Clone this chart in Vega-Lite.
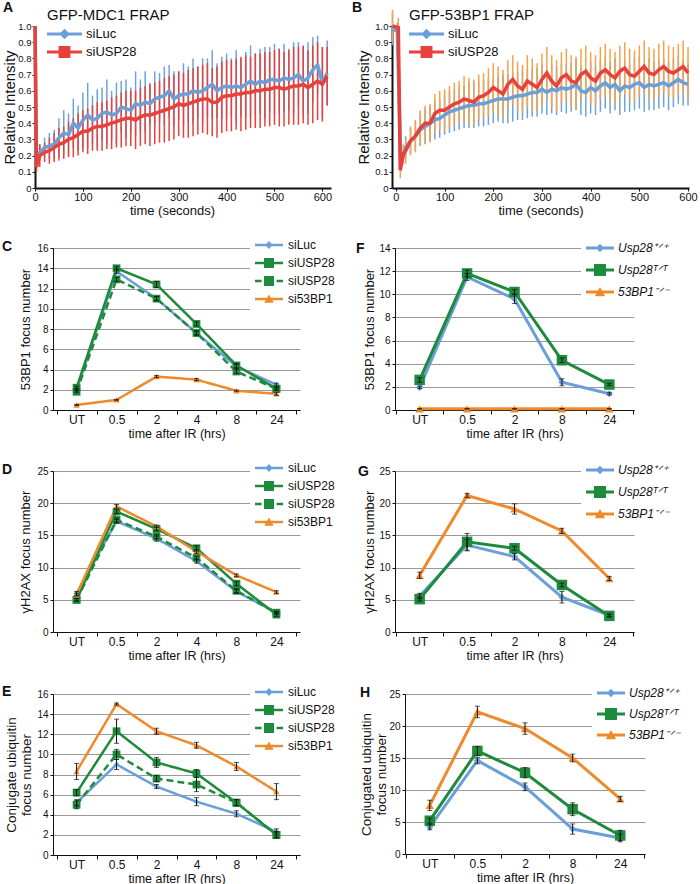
{
"$schema": "https://vega.github.io/schema/vega-lite/v6.json",
"padding": {"left": 2, "top": 1, "right": 2, "bottom": 0},
"columns": 1,
"spacing": 19,
"resolve": {"scale": {"color": "independent"}, "legend": {"color": "independent"}},
"config": {
  "font": "Liberation Sans",
  "view": {"stroke": null},
  "axis": {"labelColor": "#111", "titleColor": "#111", "domainColor": "#111", "tickColor": "#111", "titleFontWeight": "normal", "grid": false, "labelFontSize": 10, "titleFontSize": 13},
  "title": {"fontSize": 14, "fontWeight": "bold", "color": "#111"},
  "legend": {"labelColor": "#111", "titleColor": "#111"}
},
"datasets": {
"A": [
{"s":"siLuc","t":0,"v":1.0,"e":0},{"s":"siLuc","t":3,"v":0.2,"e":0.03},{"s":"siLuc","t":10,"v":0.22,"e":0.05},{"s":"siLuc","t":20,"v":0.25,"e":0.06},{"s":"siLuc","t":30,"v":0.26,"e":0.08},{"s":"siLuc","t":40,"v":0.27,"e":0.09},{"s":"siLuc","t":50,"v":0.31,"e":0.12},{"s":"siLuc","t":60,"v":0.34,"e":0.14},{"s":"siLuc","t":70,"v":0.33,"e":0.13},{"s":"siLuc","t":80,"v":0.40,"e":0.15},{"s":"siLuc","t":90,"v":0.37,"e":0.14},{"s":"siLuc","t":100,"v":0.42,"e":0.17},{"s":"siLuc","t":110,"v":0.45,"e":0.2},{"s":"siLuc","t":120,"v":0.42,"e":0.15},{"s":"siLuc","t":130,"v":0.43,"e":0.18},{"s":"siLuc","t":140,"v":0.46,"e":0.16},{"s":"siLuc","t":150,"v":0.47,"e":0.2},{"s":"siLuc","t":160,"v":0.45,"e":0.15},{"s":"siLuc","t":170,"v":0.46,"e":0.19},{"s":"siLuc","t":180,"v":0.50,"e":0.16},{"s":"siLuc","t":190,"v":0.49,"e":0.18},{"s":"siLuc","t":200,"v":0.48,"e":0.14},{"s":"siLuc","t":210,"v":0.52,"e":0.2},{"s":"siLuc","t":220,"v":0.51,"e":0.16},{"s":"siLuc","t":230,"v":0.53,"e":0.19},{"s":"siLuc","t":240,"v":0.52,"e":0.13},{"s":"siLuc","t":250,"v":0.55,"e":0.17},{"s":"siLuc","t":260,"v":0.56,"e":0.15},{"s":"siLuc","t":270,"v":0.57,"e":0.18},{"s":"siLuc","t":280,"v":0.60,"e":0.16},{"s":"siLuc","t":290,"v":0.55,"e":0.17},{"s":"siLuc","t":300,"v":0.57,"e":0.15},{"s":"siLuc","t":310,"v":0.58,"e":0.19},{"s":"siLuc","t":320,"v":0.58,"e":0.17},{"s":"siLuc","t":330,"v":0.60,"e":0.2},{"s":"siLuc","t":340,"v":0.59,"e":0.16},{"s":"siLuc","t":350,"v":0.60,"e":0.2},{"s":"siLuc","t":360,"v":0.62,"e":0.18},{"s":"siLuc","t":370,"v":0.64,"e":0.21},{"s":"siLuc","t":380,"v":0.60,"e":0.17},{"s":"siLuc","t":390,"v":0.62,"e":0.19},{"s":"siLuc","t":400,"v":0.63,"e":0.2},{"s":"siLuc","t":410,"v":0.62,"e":0.18},{"s":"siLuc","t":420,"v":0.63,"e":0.22},{"s":"siLuc","t":430,"v":0.62,"e":0.18},{"s":"siLuc","t":440,"v":0.64,"e":0.2},{"s":"siLuc","t":450,"v":0.66,"e":0.22},{"s":"siLuc","t":460,"v":0.64,"e":0.19},{"s":"siLuc","t":470,"v":0.66,"e":0.2},{"s":"siLuc","t":480,"v":0.65,"e":0.22},{"s":"siLuc","t":490,"v":0.67,"e":0.2},{"s":"siLuc","t":500,"v":0.67,"e":0.22},{"s":"siLuc","t":510,"v":0.66,"e":0.2},{"s":"siLuc","t":520,"v":0.68,"e":0.21},{"s":"siLuc","t":530,"v":0.67,"e":0.19},{"s":"siLuc","t":540,"v":0.68,"e":0.22},{"s":"siLuc","t":550,"v":0.70,"e":0.2},{"s":"siLuc","t":560,"v":0.66,"e":0.21},{"s":"siLuc","t":570,"v":0.68,"e":0.22},{"s":"siLuc","t":580,"v":0.73,"e":0.2},{"s":"siLuc","t":590,"v":0.76,"e":0.18},{"s":"siLuc","t":600,"v":0.65,"e":0.22},{"s":"siLuc","t":610,"v":0.71,"e":0.2},
{"s":"siUSP28","t":0,"v":1.0,"e":0},{"s":"siUSP28","t":3,"v":0.13,"e":0.03},{"s":"siUSP28","t":10,"v":0.20,"e":0.07},{"s":"siUSP28","t":20,"v":0.22,"e":0.06},{"s":"siUSP28","t":30,"v":0.23,"e":0.08},{"s":"siUSP28","t":40,"v":0.25,"e":0.09},{"s":"siUSP28","t":50,"v":0.27,"e":0.1},{"s":"siUSP28","t":60,"v":0.28,"e":0.1},{"s":"siUSP28","t":70,"v":0.30,"e":0.11},{"s":"siUSP28","t":80,"v":0.31,"e":0.12},{"s":"siUSP28","t":90,"v":0.33,"e":0.13},{"s":"siUSP28","t":100,"v":0.35,"e":0.13},{"s":"siUSP28","t":110,"v":0.35,"e":0.14},{"s":"siUSP28","t":120,"v":0.37,"e":0.14},{"s":"siUSP28","t":130,"v":0.38,"e":0.15},{"s":"siUSP28","t":140,"v":0.38,"e":0.15},{"s":"siUSP28","t":150,"v":0.39,"e":0.15},{"s":"siUSP28","t":160,"v":0.40,"e":0.16},{"s":"siUSP28","t":170,"v":0.41,"e":0.16},{"s":"siUSP28","t":180,"v":0.42,"e":0.17},{"s":"siUSP28","t":190,"v":0.43,"e":0.17},{"s":"siUSP28","t":200,"v":0.43,"e":0.17},{"s":"siUSP28","t":210,"v":0.42,"e":0.18},{"s":"siUSP28","t":220,"v":0.44,"e":0.18},{"s":"siUSP28","t":230,"v":0.45,"e":0.18},{"s":"siUSP28","t":240,"v":0.45,"e":0.19},{"s":"siUSP28","t":250,"v":0.46,"e":0.19},{"s":"siUSP28","t":260,"v":0.47,"e":0.19},{"s":"siUSP28","t":270,"v":0.48,"e":0.2},{"s":"siUSP28","t":280,"v":0.49,"e":0.2},{"s":"siUSP28","t":290,"v":0.50,"e":0.2},{"s":"siUSP28","t":300,"v":0.52,"e":0.2},{"s":"siUSP28","t":310,"v":0.51,"e":0.2},{"s":"siUSP28","t":320,"v":0.52,"e":0.21},{"s":"siUSP28","t":330,"v":0.53,"e":0.21},{"s":"siUSP28","t":340,"v":0.54,"e":0.21},{"s":"siUSP28","t":350,"v":0.55,"e":0.21},{"s":"siUSP28","t":360,"v":0.55,"e":0.22},{"s":"siUSP28","t":370,"v":0.53,"e":0.21},{"s":"siUSP28","t":380,"v":0.53,"e":0.22},{"s":"siUSP28","t":390,"v":0.56,"e":0.22},{"s":"siUSP28","t":400,"v":0.57,"e":0.22},{"s":"siUSP28","t":410,"v":0.57,"e":0.22},{"s":"siUSP28","t":420,"v":0.58,"e":0.22},{"s":"siUSP28","t":430,"v":0.58,"e":0.23},{"s":"siUSP28","t":440,"v":0.59,"e":0.23},{"s":"siUSP28","t":450,"v":0.59,"e":0.22},{"s":"siUSP28","t":460,"v":0.60,"e":0.23},{"s":"siUSP28","t":470,"v":0.60,"e":0.23},{"s":"siUSP28","t":480,"v":0.61,"e":0.23},{"s":"siUSP28","t":490,"v":0.61,"e":0.23},{"s":"siUSP28","t":500,"v":0.62,"e":0.23},{"s":"siUSP28","t":510,"v":0.62,"e":0.24},{"s":"siUSP28","t":520,"v":0.61,"e":0.23},{"s":"siUSP28","t":530,"v":0.62,"e":0.23},{"s":"siUSP28","t":540,"v":0.63,"e":0.24},{"s":"siUSP28","t":550,"v":0.63,"e":0.24},{"s":"siUSP28","t":560,"v":0.64,"e":0.24},{"s":"siUSP28","t":570,"v":0.62,"e":0.23},{"s":"siUSP28","t":580,"v":0.64,"e":0.24},{"s":"siUSP28","t":590,"v":0.66,"e":0.24},{"s":"siUSP28","t":600,"v":0.64,"e":0.23},{"s":"siUSP28","t":610,"v":0.69,"e":0.18}
],
"B": [
{"s":"siLuc","t":-7,"v":0.98,"e":0.1},{"s":"siLuc","t":3,"v":0.97,"e":0.05},{"s":"siLuc","t":10,"v":0.14,"e":0.04},{"s":"siLuc","t":20,"v":0.25,"e":0.07},{"s":"siLuc","t":30,"v":0.29,"e":0.08},{"s":"siLuc","t":40,"v":0.32,"e":0.09},{"s":"siLuc","t":50,"v":0.36,"e":0.1},{"s":"siLuc","t":60,"v":0.38,"e":0.11},{"s":"siLuc","t":70,"v":0.40,"e":0.11},{"s":"siLuc","t":80,"v":0.42,"e":0.12},{"s":"siLuc","t":90,"v":0.43,"e":0.12},{"s":"siLuc","t":100,"v":0.45,"e":0.12},{"s":"siLuc","t":110,"v":0.47,"e":0.13},{"s":"siLuc","t":120,"v":0.48,"e":0.13},{"s":"siLuc","t":130,"v":0.49,"e":0.13},{"s":"siLuc","t":140,"v":0.50,"e":0.13},{"s":"siLuc","t":150,"v":0.51,"e":0.14},{"s":"siLuc","t":160,"v":0.51,"e":0.14},{"s":"siLuc","t":170,"v":0.52,"e":0.14},{"s":"siLuc","t":180,"v":0.52,"e":0.14},{"s":"siLuc","t":190,"v":0.53,"e":0.14},{"s":"siLuc","t":200,"v":0.54,"e":0.14},{"s":"siLuc","t":210,"v":0.55,"e":0.14},{"s":"siLuc","t":220,"v":0.55,"e":0.15},{"s":"siLuc","t":230,"v":0.55,"e":0.15},{"s":"siLuc","t":240,"v":0.56,"e":0.15},{"s":"siLuc","t":250,"v":0.57,"e":0.15},{"s":"siLuc","t":260,"v":0.57,"e":0.15},{"s":"siLuc","t":270,"v":0.58,"e":0.15},{"s":"siLuc","t":280,"v":0.59,"e":0.15},{"s":"siLuc","t":290,"v":0.59,"e":0.15},{"s":"siLuc","t":300,"v":0.61,"e":0.15},{"s":"siLuc","t":310,"v":0.59,"e":0.14},{"s":"siLuc","t":320,"v":0.61,"e":0.15},{"s":"siLuc","t":330,"v":0.60,"e":0.15},{"s":"siLuc","t":340,"v":0.62,"e":0.15},{"s":"siLuc","t":350,"v":0.61,"e":0.15},{"s":"siLuc","t":360,"v":0.62,"e":0.15},{"s":"siLuc","t":370,"v":0.64,"e":0.16},{"s":"siLuc","t":380,"v":0.60,"e":0.15},{"s":"siLuc","t":390,"v":0.59,"e":0.15},{"s":"siLuc","t":400,"v":0.62,"e":0.16},{"s":"siLuc","t":410,"v":0.60,"e":0.15},{"s":"siLuc","t":420,"v":0.63,"e":0.16},{"s":"siLuc","t":430,"v":0.65,"e":0.16},{"s":"siLuc","t":440,"v":0.62,"e":0.16},{"s":"siLuc","t":450,"v":0.64,"e":0.16},{"s":"siLuc","t":460,"v":0.60,"e":0.15},{"s":"siLuc","t":470,"v":0.63,"e":0.16},{"s":"siLuc","t":480,"v":0.62,"e":0.15},{"s":"siLuc","t":490,"v":0.64,"e":0.16},{"s":"siLuc","t":500,"v":0.65,"e":0.16},{"s":"siLuc","t":510,"v":0.62,"e":0.15},{"s":"siLuc","t":520,"v":0.64,"e":0.16},{"s":"siLuc","t":530,"v":0.63,"e":0.15},{"s":"siLuc","t":540,"v":0.64,"e":0.15},{"s":"siLuc","t":550,"v":0.65,"e":0.15},{"s":"siLuc","t":560,"v":0.63,"e":0.15},{"s":"siLuc","t":570,"v":0.65,"e":0.15},{"s":"siLuc","t":580,"v":0.67,"e":0.15},{"s":"siLuc","t":590,"v":0.65,"e":0.14},{"s":"siLuc","t":600,"v":0.64,"e":0.13},
{"s":"siUSP28","t":-7,"v":1.0,"e":0.1},{"s":"siUSP28","t":5,"v":0.99,"e":0.06},{"s":"siUSP28","t":9,"v":0.11,"e":0.05},{"s":"siUSP28","t":15,"v":0.21,"e":0.06},{"s":"siUSP28","t":20,"v":0.23,"e":0.08},{"s":"siUSP28","t":30,"v":0.29,"e":0.09},{"s":"siUSP28","t":40,"v":0.32,"e":0.1},{"s":"siUSP28","t":50,"v":0.37,"e":0.11},{"s":"siUSP28","t":60,"v":0.40,"e":0.11},{"s":"siUSP28","t":70,"v":0.40,"e":0.12},{"s":"siUSP28","t":80,"v":0.46,"e":0.12},{"s":"siUSP28","t":90,"v":0.48,"e":0.12},{"s":"siUSP28","t":100,"v":0.48,"e":0.13},{"s":"siUSP28","t":110,"v":0.50,"e":0.13},{"s":"siUSP28","t":120,"v":0.52,"e":0.13},{"s":"siUSP28","t":130,"v":0.53,"e":0.13},{"s":"siUSP28","t":140,"v":0.55,"e":0.14},{"s":"siUSP28","t":150,"v":0.54,"e":0.14},{"s":"siUSP28","t":160,"v":0.53,"e":0.14},{"s":"siUSP28","t":170,"v":0.56,"e":0.14},{"s":"siUSP28","t":180,"v":0.57,"e":0.14},{"s":"siUSP28","t":190,"v":0.59,"e":0.15},{"s":"siUSP28","t":200,"v":0.62,"e":0.15},{"s":"siUSP28","t":210,"v":0.60,"e":0.15},{"s":"siUSP28","t":220,"v":0.58,"e":0.15},{"s":"siUSP28","t":230,"v":0.64,"e":0.15},{"s":"siUSP28","t":240,"v":0.67,"e":0.15},{"s":"siUSP28","t":250,"v":0.63,"e":0.15},{"s":"siUSP28","t":260,"v":0.61,"e":0.15},{"s":"siUSP28","t":270,"v":0.66,"e":0.16},{"s":"siUSP28","t":280,"v":0.64,"e":0.16},{"s":"siUSP28","t":290,"v":0.62,"e":0.15},{"s":"siUSP28","t":300,"v":0.67,"e":0.16},{"s":"siUSP28","t":310,"v":0.71,"e":0.16},{"s":"siUSP28","t":320,"v":0.66,"e":0.16},{"s":"siUSP28","t":330,"v":0.63,"e":0.16},{"s":"siUSP28","t":340,"v":0.68,"e":0.16},{"s":"siUSP28","t":350,"v":0.70,"e":0.16},{"s":"siUSP28","t":360,"v":0.66,"e":0.16},{"s":"siUSP28","t":370,"v":0.65,"e":0.16},{"s":"siUSP28","t":380,"v":0.70,"e":0.16},{"s":"siUSP28","t":390,"v":0.72,"e":0.16},{"s":"siUSP28","t":400,"v":0.68,"e":0.16},{"s":"siUSP28","t":410,"v":0.66,"e":0.16},{"s":"siUSP28","t":420,"v":0.71,"e":0.16},{"s":"siUSP28","t":430,"v":0.73,"e":0.16},{"s":"siUSP28","t":440,"v":0.70,"e":0.16},{"s":"siUSP28","t":450,"v":0.68,"e":0.16},{"s":"siUSP28","t":460,"v":0.72,"e":0.16},{"s":"siUSP28","t":470,"v":0.74,"e":0.16},{"s":"siUSP28","t":480,"v":0.70,"e":0.16},{"s":"siUSP28","t":490,"v":0.69,"e":0.16},{"s":"siUSP28","t":500,"v":0.72,"e":0.16},{"s":"siUSP28","t":510,"v":0.75,"e":0.16},{"s":"siUSP28","t":520,"v":0.71,"e":0.16},{"s":"siUSP28","t":530,"v":0.70,"e":0.16},{"s":"siUSP28","t":540,"v":0.73,"e":0.16},{"s":"siUSP28","t":550,"v":0.75,"e":0.16},{"s":"siUSP28","t":560,"v":0.72,"e":0.16},{"s":"siUSP28","t":570,"v":0.71,"e":0.16},{"s":"siUSP28","t":580,"v":0.73,"e":0.16},{"s":"siUSP28","t":590,"v":0.75,"e":0.16},{"s":"siUSP28","t":600,"v":0.71,"e":0.16}
],
"C": [
{"s":"siLuc","x":"UT","v":2.0,"e":0.1},{"s":"siLuc","x":"0.5","v":13.7,"e":0.2},{"s":"siLuc","x":"2","v":11.0,"e":0.2},{"s":"siLuc","x":"4","v":7.6,"e":0.2},{"s":"siLuc","x":"8","v":4.3,"e":0.2},{"s":"siLuc","x":"24","v":2.5,"e":0.15},
{"s":"siUSP28","x":"UT","v":2.2,"e":0.15},{"s":"siUSP28","x":"0.5","v":14.0,"e":0.15},{"s":"siUSP28","x":"2","v":12.4,"e":0.3},{"s":"siUSP28","x":"4","v":8.5,"e":0.2},{"s":"siUSP28","x":"8","v":4.4,"e":0.2},{"s":"siUSP28","x":"24","v":2.1,"e":0.15},
{"s":"siUSP28b","x":"UT","v":1.8,"e":0.1},{"s":"siUSP28b","x":"0.5","v":12.9,"e":0.2},{"s":"siUSP28b","x":"2","v":11.0,"e":0.2},{"s":"siUSP28b","x":"4","v":7.6,"e":0.2},{"s":"siUSP28b","x":"8","v":3.8,"e":0.2},{"s":"siUSP28b","x":"24","v":2.1,"e":0.1},
{"s":"si53BP1","x":"UT","v":0.5,"e":0.05},{"s":"si53BP1","x":"0.5","v":1.0,"e":0.05},{"s":"si53BP1","x":"2","v":3.3,"e":0.1},{"s":"si53BP1","x":"4","v":3.0,"e":0.1},{"s":"si53BP1","x":"8","v":1.9,"e":0.05},{"s":"si53BP1","x":"24","v":1.6,"e":0.15}
],
"D": [
{"s":"siLuc","x":"UT","v":6.0,"e":0.3},{"s":"siLuc","x":"0.5","v":17.2,"e":0.3},{"s":"siLuc","x":"2","v":14.5,"e":0.4},{"s":"siLuc","x":"4","v":11.0,"e":0.3},{"s":"siLuc","x":"8","v":6.3,"e":0.3},{"s":"siLuc","x":"24","v":3.0,"e":0.2},
{"s":"siUSP28","x":"UT","v":5.0,"e":0.2},{"s":"siUSP28","x":"0.5","v":18.7,"e":0.3},{"s":"siUSP28","x":"2","v":16.0,"e":0.3},{"s":"siUSP28","x":"4","v":13.0,"e":0.4},{"s":"siUSP28","x":"8","v":7.5,"e":0.3},{"s":"siUSP28","x":"24","v":2.7,"e":0.3},
{"s":"siUSP28b","x":"UT","v":5.0,"e":0.2},{"s":"siUSP28b","x":"0.5","v":17.4,"e":0.3},{"s":"siUSP28b","x":"2","v":14.8,"e":0.3},{"s":"siUSP28b","x":"4","v":11.5,"e":0.3},{"s":"siUSP28b","x":"8","v":6.4,"e":0.3},{"s":"siUSP28b","x":"24","v":3.0,"e":0.2},
{"s":"si53BP1","x":"UT","v":5.8,"e":0.2},{"s":"si53BP1","x":"0.5","v":19.5,"e":0.3},{"s":"si53BP1","x":"2","v":16.4,"e":0.2},{"s":"si53BP1","x":"4","v":12.5,"e":0.3},{"s":"si53BP1","x":"8","v":8.8,"e":0.2},{"s":"si53BP1","x":"24","v":6.2,"e":0.2}
],
"E": [
{"s":"siLuc","x":"UT","v":5.2,"e":0.3},{"s":"siLuc","x":"0.5","v":9.0,"e":0.5},{"s":"siLuc","x":"2","v":6.8,"e":0.2},{"s":"siLuc","x":"4","v":5.3,"e":0.4},{"s":"siLuc","x":"8","v":4.1,"e":0.3},{"s":"siLuc","x":"24","v":2.3,"e":0.3},
{"s":"siUSP28","x":"UT","v":6.2,"e":0.3},{"s":"siUSP28","x":"0.5","v":12.3,"e":1.2},{"s":"siUSP28","x":"2","v":9.2,"e":0.5},{"s":"siUSP28","x":"4","v":8.1,"e":0.4},{"s":"siUSP28","x":"8","v":5.2,"e":0.3},{"s":"siUSP28","x":"24","v":2.0,"e":0.3},
{"s":"siUSP28b","x":"UT","v":5.0,"e":0.4},{"s":"siUSP28b","x":"0.5","v":10.0,"e":0.5},{"s":"siUSP28b","x":"2","v":7.6,"e":0.3},{"s":"siUSP28b","x":"4","v":7.0,"e":0.7},{"s":"siUSP28b","x":"8","v":5.2,"e":0.3},{"s":"siUSP28b","x":"24","v":2.0,"e":0.3},
{"s":"si53BP1","x":"UT","v":8.3,"e":0.8},{"s":"si53BP1","x":"0.5","v":15.0,"e":0.1},{"s":"si53BP1","x":"2","v":12.3,"e":0.3},{"s":"si53BP1","x":"4","v":10.9,"e":0.3},{"s":"si53BP1","x":"8","v":8.8,"e":0.4},{"s":"si53BP1","x":"24","v":6.3,"e":0.8}
],
"F": [
{"s":"Usp28+/+","x":"UT","v":1.95,"e":0.1},{"s":"Usp28+/+","x":"0.5","v":11.5,"e":0.3},{"s":"Usp28+/+","x":"2","v":9.6,"e":0.4},{"s":"Usp28+/+","x":"8","v":2.4,"e":0.3},{"s":"Usp28+/+","x":"24","v":1.4,"e":0.1},
{"s":"Usp28T/T","x":"UT","v":2.6,"e":0.2},{"s":"Usp28T/T","x":"0.5","v":11.8,"e":0.3},{"s":"Usp28T/T","x":"2","v":10.2,"e":0.2},{"s":"Usp28T/T","x":"8","v":4.3,"e":0.2},{"s":"Usp28T/T","x":"24","v":2.2,"e":0.1},
{"s":"53BP1-/-","x":"UT","v":0.1,"e":0.02},{"s":"53BP1-/-","x":"0.5","v":0.1,"e":0.02},{"s":"53BP1-/-","x":"2","v":0.1,"e":0.02},{"s":"53BP1-/-","x":"8","v":0.1,"e":0.02},{"s":"53BP1-/-","x":"24","v":0.1,"e":0.02}
],
"G": [
{"s":"Usp28+/+","x":"UT","v":5.6,"e":0.4},{"s":"Usp28+/+","x":"0.5","v":13.5,"e":0.9},{"s":"Usp28+/+","x":"2","v":11.7,"e":0.5},{"s":"Usp28+/+","x":"8","v":5.4,"e":0.9},{"s":"Usp28+/+","x":"24","v":2.6,"e":0.2},
{"s":"Usp28T/T","x":"UT","v":5.1,"e":0.3},{"s":"Usp28T/T","x":"0.5","v":14.0,"e":1.3},{"s":"Usp28T/T","x":"2","v":13.0,"e":0.3},{"s":"Usp28T/T","x":"8","v":7.3,"e":0.3},{"s":"Usp28T/T","x":"24","v":2.5,"e":0.2},
{"s":"53BP1-/-","x":"UT","v":8.8,"e":0.5},{"s":"53BP1-/-","x":"0.5","v":21.2,"e":0.3},{"s":"53BP1-/-","x":"2","v":19.1,"e":0.8},{"s":"53BP1-/-","x":"8","v":15.7,"e":0.4},{"s":"53BP1-/-","x":"24","v":8.3,"e":0.3}
],
"H": [
{"s":"Usp28+/+","x":"UT","v":4.2,"e":0.4},{"s":"Usp28+/+","x":"0.5","v":14.6,"e":0.5},{"s":"Usp28+/+","x":"2","v":10.5,"e":0.6},{"s":"Usp28+/+","x":"8","v":3.9,"e":0.8},{"s":"Usp28+/+","x":"24","v":2.5,"e":0.6},
{"s":"Usp28T/T","x":"UT","v":5.2,"e":0.4},{"s":"Usp28T/T","x":"0.5","v":16.1,"e":0.7},{"s":"Usp28T/T","x":"2","v":12.7,"e":0.8},{"s":"Usp28T/T","x":"8","v":7.0,"e":1.0},{"s":"Usp28T/T","x":"24","v":2.9,"e":0.8},
{"s":"53BP1-/-","x":"UT","v":7.6,"e":0.8},{"s":"53BP1-/-","x":"0.5","v":22.2,"e":0.9},{"s":"53BP1-/-","x":"2","v":19.6,"e":0.9},{"s":"53BP1-/-","x":"8","v":15.0,"e":0.6},{"s":"53BP1-/-","x":"24","v":8.6,"e":0.4}
]
},
"concat": [
{"concat": [
{"hconcat": [
 {"width": 278, "height": 162,
  "title": {"text": "A", "anchor": "start", "frame": "group", "dx": -50, "offset": -7},
  "data": {"name": "A"},
  "encoding": {
   "x": {"field": "t", "type": "quantitative", "scale": {"domain": [0, 618], "nice": false, "zero": false, "range": [-18, 278]}, "axis": {"title": "time (seconds)", "titleX": 119, "values": [0,100,200,300,400,500,600], "labelFontSize": 11, "titleFontSize": 13, "domainWidth": 2, "tickSize": 3, "labelPadding": 0, "titlePadding": 2, "labelFlush": false}},
   "y": {"field": "v", "type": "quantitative", "scale": {"domain": [0, 1], "nice": false}, "axis": {"title": "Relative Intensity", "offset": 18, "values": [0,0.1,0.2,0.3,0.4,0.5,0.6,0.7,0.8,0.9,1], "labelExpr": "datum.value == 0 ? '0' : format(datum.value, '.1f')", "labelFontSize": 9.5, "titleFontSize": 15, "domainWidth": 2, "tickSize": 3, "labelPadding": 1, "titlePadding": 0}}
  },
  "layer": [
   {"transform": [{"filter": "datum.s == 'siLuc'"}], "mark": {"type": "errorbar", "color": "#6fa3d8", "thickness": 1.5}, "encoding": {"yError": {"field": "e"}}},
   {"transform": [{"filter": "datum.s == 'siUSP28'"}], "mark": {"type": "errorbar", "color": "#e8403a", "thickness": 1.5}, "encoding": {"yError": {"field": "e"}}},
   {"mark": {"type": "line", "strokeWidth": 3.5}, "encoding": {"color": {"field": "s", "type": "nominal", "scale": {"domain": ["siLuc", "siUSP28"], "range": ["#6a9fd8", "#e8403a"]},
     "legend": {"orient": "none", "legendX": -6, "legendY": -18, "title": "GFP-MDC1 FRAP", "titleFontSize": 15, "titleFontWeight": "normal", "titlePadding": 4, "labelFontSize": 13, "symbolSize": 196, "labelOffset": 25, "rowPadding": 4, "padding": 0,
      "encode": {"symbols": {"update": {"shape": {"signal": "datum.value == 'siLuc' ? 'M-1,-0.22L4,-0.22L4,0.22L-1,0.22Z M1.5,-0.75L2.25,0L1.5,0.75L0.75,0Z' : 'M-1,-0.22L4,-0.22L4,0.22L-1,0.22Z M0.65,-0.85L2.35,-0.85L2.35,0.85L0.65,0.85Z'"}, "fill": {"signal": "datum.value == 'siLuc' ? '#6a9fd8' : '#e8403a'"}, "stroke": {"value": "transparent"}, "strokeWidth": {"value": 0}, "opacity": {"value": 1}}}}}}}}
  ]
 },
 {"width": 297, "height": 162,
  "title": {"text": "B", "anchor": "start", "frame": "group", "dx": -40, "offset": -7},
  "data": {"name": "B"},
  "encoding": {
   "x": {"field": "t", "type": "quantitative", "scale": {"domain": [-8, 602], "nice": false, "zero": false}, "axis": {"title": "time (seconds)", "values": [0,100,200,300,400,500,600], "labelFontSize": 11, "titleFontSize": 13, "domainWidth": 2, "tickSize": 3, "labelPadding": 0, "titlePadding": 2, "labelFlush": false}},
   "y": {"field": "v", "type": "quantitative", "scale": {"domain": [0, 1], "nice": false}, "axis": {"title": "Relative Intensity", "values": [0,0.1,0.2,0.3,0.4,0.5,0.6,0.7,0.8,0.9,1], "labelExpr": "datum.value == 0 ? '0' : format(datum.value, '.1f')", "labelFontSize": 9.5, "titleFontSize": 15, "domainWidth": 2, "tickSize": 3, "labelPadding": 1, "titlePadding": 3}}
  },
  "layer": [
   {"transform": [{"filter": "datum.s == 'siLuc'"}], "mark": {"type": "errorbar", "color": "#6fa3d8", "thickness": 1.5}, "encoding": {"yError": {"field": "e"}}},
   {"transform": [{"filter": "datum.s == 'siUSP28'"}], "mark": {"type": "errorbar", "color": "#f5a24a", "thickness": 1.5}, "encoding": {"yError": {"field": "e"}}},
   {"mark": {"type": "line", "strokeWidth": 3.5}, "encoding": {"color": {"field": "s", "type": "nominal", "scale": {"domain": ["siLuc", "siUSP28"], "range": ["#6a9fd8", "#e8403a"]},
     "legend": {"orient": "none", "legendX": 17, "legendY": -18, "title": "GFP-53BP1 FRAP", "titleFontSize": 15, "titleFontWeight": "normal", "titlePadding": 4, "labelFontSize": 13, "symbolSize": 196, "labelOffset": 25, "rowPadding": 4, "padding": 0,
      "encode": {"symbols": {"update": {"shape": {"signal": "datum.value == 'siLuc' ? 'M-1,-0.22L4,-0.22L4,0.22L-1,0.22Z M1.5,-0.75L2.25,0L1.5,0.75L0.75,0Z' : 'M-1,-0.22L4,-0.22L4,0.22L-1,0.22Z M0.65,-0.85L2.35,-0.85L2.35,0.85L0.65,0.85Z'"}, "fill": {"signal": "datum.value == 'siLuc' ? '#6a9fd8' : '#e8403a'"}, "stroke": {"value": "transparent"}, "strokeWidth": {"value": 0}, "opacity": {"value": 1}}}}}}}}
  ]
 }
], "spacing": 3, "resolve": {"scale": {"color": "independent"}, "legend": {"color": "independent"}}},
{"hconcat": [
 {"width": 247, "height": 162,
  "title": {"text": "C", "anchor": "start", "frame": "group", "dx": -51, "offset": -20},
  "data": {"name": "C"},
  "encoding": {
   "x": {"field": "x", "type": "ordinal", "sort": ["UT","0.5","2","4","8","24"], "scale": {"type": "band", "paddingInner": 0, "paddingOuter": 0.09}, "axis": {"title": "time after IR (hrs)", "labelAngle": 0, "labelFontSize": 12, "labelPadding": 0, "tickBand": "extent", "tickSize": 4, "titleFontSize": 12.5, "titlePadding": 2}},
   "y": {"field": "v", "type": "quantitative", "scale": {"domain": [0, 16], "nice": false}, "axis": {"title": "53BP1 focus number", "values": [0,2,4,6,8,10,12,14,16], "grid": true, "gridColor": "#999", "tickSize": 3, "labelPadding": 2, "titlePadding": 4}}
  },
  "layer": [
   {"mark": {"type": "line", "strokeWidth": 2.5}, "encoding": {
     "strokeDash": {"field": "s", "type": "nominal", "scale": {"domain": ["siLuc","siUSP28","siUSP28b","si53BP1"], "range": [[1,0],[1,0],[7,4],[1,0]]}, "legend": null},
     "color": {"field": "s", "type": "nominal", "scale": {"domain": ["siLuc","siUSP28","siUSP28b","si53BP1"], "range": ["#6a9fd8","#1e8a3c","#1e8a3c","#ee8a2c"]},
     "legend": {"orient": "none", "legendX": 197, "legendY": -14, "title": null, "fillColor": "white", "padding": 5, "symbolSize": 144, "labelFontSize": 12, "labelOffset": 21, "rowPadding": 6, "labelExpr": "datum.label == 'siUSP28b' ? 'siUSP28' : datum.label",
      "encode": {"symbols": {"update": {"shape": {"signal": "datum.value == 'siLuc' ? 'M-1,-0.2L3.67,-0.2L3.67,0.2L-1,0.2Z M1.33,-0.65L1.98,0L1.33,0.65L0.68,0Z' : datum.value == 'siUSP28' ? 'M-1,-0.2L3.67,-0.2L3.67,0.2L-1,0.2Z M0.5,-0.83L2.17,-0.83L2.17,0.83L0.5,0.83Z' : datum.value == 'siUSP28b' ? 'M-1,-0.2L0.1,-0.2L0.1,0.2L-1,0.2Z M2.6,-0.2L3.67,-0.2L3.67,0.2L2.6,0.2Z M0.5,-0.83L2.17,-0.83L2.17,0.83L0.5,0.83Z' : 'M-1,-0.2L3.67,-0.2L3.67,0.2L-1,0.2Z M1.33,-0.75L2.13,0.62L0.53,0.62Z'"}, "fill": {"signal": "datum.value == 'siLuc' ? '#6a9fd8' : datum.value == 'si53BP1' ? '#ee8a2c' : '#1e8a3c'"}, "stroke": {"value": "transparent"}, "strokeWidth": {"value": 0}, "opacity": {"value": 1}, "strokeDash": {"value": []}}}}}}}},
   {"transform": [{"filter": "datum.s == 'siLuc'"}], "mark": {"type": "point", "shape": "diamond", "size": 30, "filled": true, "opacity": 1, "color": "#6a9fd8"}},
   {"transform": [{"filter": "datum.s == 'siUSP28' || datum.s == 'siUSP28b'"}], "mark": {"type": "point", "shape": "square", "size": 60, "filled": true, "opacity": 1, "color": "#1e8a3c"}},
   {"transform": [{"filter": "datum.s == 'si53BP1'"}], "mark": {"type": "point", "shape": "triangle-up", "size": 40, "filled": true, "opacity": 1, "color": "#ee8a2c"}},
   {"mark": {"type": "errorbar", "ticks": {"size": 5}, "thickness": 1, "color": "#111"}, "encoding": {"yError": {"field": "e"}}}
  ]
 },
 {"width": 239, "height": 162,
  "title": {"text": "F", "anchor": "start", "frame": "group", "dx": -39, "offset": -19},
  "data": {"name": "F"},
  "encoding": {
   "x": {"field": "x", "type": "ordinal", "sort": ["UT","0.5","2","8","24"], "scale": {"type": "band", "paddingInner": 0, "paddingOuter": 0.02}, "axis": {"title": "time after IR (hrs)", "labelAngle": 0, "labelFontSize": 12, "labelPadding": 0, "tickBand": "extent", "tickSize": 4, "titleFontSize": 12.5, "titlePadding": 2}},
   "y": {"field": "v", "type": "quantitative", "scale": {"domain": [0, 14], "nice": false}, "axis": {"title": "53BP1 focus number", "values": [0,2,4,6,8,10,12,14], "grid": true, "gridColor": "#999", "tickSize": 3, "labelPadding": 2, "titlePadding": 2}}
  },
  "layer": [
   {"mark": {"type": "line", "strokeWidth": 3}, "encoding": {
     "color": {"field": "s", "type": "nominal", "scale": {"domain": ["Usp28+/+","Usp28T/T","53BP1-/-"], "range": ["#6a9fd8","#1e8a3c","#ee8a2c"]},
     "legend": {"orient": "none", "legendX": 186, "legendY": -11, "title": null, "fillColor": "white", "padding": 5, "symbolSize": 144, "labelFontSize": 12, "labelFontStyle": "italic", "labelOffset": 20, "rowPadding": 10, "labelExpr": "datum.label == 'Usp28+/+' ? 'Usp28⁺ᐟ⁺' : datum.label == 'Usp28T/T' ? 'Usp28ᵀᐟᵀ' : '53BP1⁻ᐟ⁻'",
      "encode": {"symbols": {"update": {"shape": {"signal": "datum.value == 'Usp28+/+' ? 'M-1,-0.25L3.67,-0.25L3.67,0.25L-1,0.25Z M1.33,-0.7L2.03,0L1.33,0.7L0.63,0Z' : datum.value == 'Usp28T/T' ? 'M-1,-0.25L3.67,-0.25L3.67,0.25L-1,0.25Z M0.33,-1L2.33,-1L2.33,1L0.33,1Z' : 'M-1,-0.25L3.67,-0.25L3.67,0.25L-1,0.25Z M1.33,-0.85L2.2,0.7L0.46,0.7Z'"}, "fill": {"signal": "datum.value == 'Usp28+/+' ? '#6a9fd8' : datum.value == 'Usp28T/T' ? '#1e8a3c' : '#ee8a2c'"}, "stroke": {"value": "transparent"}, "strokeWidth": {"value": 0}, "opacity": {"value": 1}}}}}}}},
   {"transform": [{"filter": "datum.s == 'Usp28+/+'"}], "mark": {"type": "point", "shape": "diamond", "size": 50, "filled": true, "opacity": 1, "color": "#6a9fd8"}},
   {"transform": [{"filter": "datum.s == 'Usp28T/T'"}], "mark": {"type": "point", "shape": "square", "size": 110, "filled": true, "opacity": 1, "color": "#1e8a3c"}},
   {"transform": [{"filter": "datum.s == '53BP1-/-'"}], "mark": {"type": "point", "shape": "triangle-up", "size": 70, "filled": true, "opacity": 1, "color": "#ee8a2c"}},
   {"mark": {"type": "errorbar", "ticks": {"size": 5}, "thickness": 1, "color": "#111"}, "encoding": {"yError": {"field": "e"}}}
  ]
 }
], "spacing": 16, "resolve": {"scale": {"color": "independent", "strokeDash": "independent"}, "legend": {"color": "independent"}}},
{"hconcat": [
 {"width": 247, "height": 161,
  "title": {"text": "D", "anchor": "start", "frame": "group", "dx": -51, "offset": -20},
  "data": {"name": "D"},
  "encoding": {
   "x": {"field": "x", "type": "ordinal", "sort": ["UT","0.5","2","4","8","24"], "scale": {"type": "band", "paddingInner": 0, "paddingOuter": 0.09}, "axis": {"title": "time after IR (hrs)", "labelAngle": 0, "labelFontSize": 12, "labelPadding": 0, "tickBand": "extent", "tickSize": 4, "titleFontSize": 12.5, "titlePadding": 2}},
   "y": {"field": "v", "type": "quantitative", "scale": {"domain": [0, 25], "nice": false}, "axis": {"title": "γH2AX focus number", "values": [0,5,10,15,20,25], "grid": true, "gridColor": "#999", "tickSize": 3, "labelPadding": 2, "titlePadding": 4}}
  },
  "layer": [
   {"mark": {"type": "line", "strokeWidth": 2.5}, "encoding": {
     "strokeDash": {"field": "s", "type": "nominal", "scale": {"domain": ["siLuc","siUSP28","siUSP28b","si53BP1"], "range": [[1,0],[1,0],[7,4],[1,0]]}, "legend": null},
     "color": {"field": "s", "type": "nominal", "scale": {"domain": ["siLuc","siUSP28","siUSP28b","si53BP1"], "range": ["#6a9fd8","#1e8a3c","#1e8a3c","#ee8a2c"]},
     "legend": {"orient": "none", "legendX": 197, "legendY": -14, "title": null, "fillColor": "white", "padding": 5, "symbolSize": 144, "labelFontSize": 12, "labelOffset": 21, "rowPadding": 6, "labelExpr": "datum.label == 'siUSP28b' ? 'siUSP28' : datum.label",
      "encode": {"symbols": {"update": {"shape": {"signal": "datum.value == 'siLuc' ? 'M-1,-0.2L3.67,-0.2L3.67,0.2L-1,0.2Z M1.33,-0.65L1.98,0L1.33,0.65L0.68,0Z' : datum.value == 'siUSP28' ? 'M-1,-0.2L3.67,-0.2L3.67,0.2L-1,0.2Z M0.5,-0.83L2.17,-0.83L2.17,0.83L0.5,0.83Z' : datum.value == 'siUSP28b' ? 'M-1,-0.2L0.1,-0.2L0.1,0.2L-1,0.2Z M2.6,-0.2L3.67,-0.2L3.67,0.2L2.6,0.2Z M0.5,-0.83L2.17,-0.83L2.17,0.83L0.5,0.83Z' : 'M-1,-0.2L3.67,-0.2L3.67,0.2L-1,0.2Z M1.33,-0.75L2.13,0.62L0.53,0.62Z'"}, "fill": {"signal": "datum.value == 'siLuc' ? '#6a9fd8' : datum.value == 'si53BP1' ? '#ee8a2c' : '#1e8a3c'"}, "stroke": {"value": "transparent"}, "strokeWidth": {"value": 0}, "opacity": {"value": 1}, "strokeDash": {"value": []}}}}}}}},
   {"transform": [{"filter": "datum.s == 'siLuc'"}], "mark": {"type": "point", "shape": "diamond", "size": 30, "filled": true, "opacity": 1, "color": "#6a9fd8"}},
   {"transform": [{"filter": "datum.s == 'siUSP28' || datum.s == 'siUSP28b'"}], "mark": {"type": "point", "shape": "square", "size": 60, "filled": true, "opacity": 1, "color": "#1e8a3c"}},
   {"transform": [{"filter": "datum.s == 'si53BP1'"}], "mark": {"type": "point", "shape": "triangle-up", "size": 40, "filled": true, "opacity": 1, "color": "#ee8a2c"}},
   {"mark": {"type": "errorbar", "ticks": {"size": 5}, "thickness": 1, "color": "#111"}, "encoding": {"yError": {"field": "e"}}}
  ]
 },
 {"width": 239, "height": 161,
  "title": {"text": "G", "anchor": "start", "frame": "group", "dx": -37, "offset": -20},
  "data": {"name": "G"},
  "encoding": {
   "x": {"field": "x", "type": "ordinal", "sort": ["UT","0.5","2","8","24"], "scale": {"type": "band", "paddingInner": 0, "paddingOuter": 0.02}, "axis": {"title": "time after IR (hrs)", "labelAngle": 0, "labelFontSize": 12, "labelPadding": 0, "tickBand": "extent", "tickSize": 4, "titleFontSize": 12.5, "titlePadding": 2}},
   "y": {"field": "v", "type": "quantitative", "scale": {"domain": [0, 25], "nice": false}, "axis": {"title": "γH2AX focus number", "values": [0,5,10,15,20,25], "grid": true, "gridColor": "#999", "tickSize": 3, "labelPadding": 2, "titlePadding": 2}}
  },
  "layer": [
   {"mark": {"type": "line", "strokeWidth": 3}, "encoding": {
     "color": {"field": "s", "type": "nominal", "scale": {"domain": ["Usp28+/+","Usp28T/T","53BP1-/-"], "range": ["#6a9fd8","#1e8a3c","#ee8a2c"]},
     "legend": {"orient": "none", "legendX": 186, "legendY": -12, "title": null, "fillColor": "white", "padding": 5, "symbolSize": 144, "labelFontSize": 12, "labelFontStyle": "italic", "labelOffset": 20, "rowPadding": 10, "labelExpr": "datum.label == 'Usp28+/+' ? 'Usp28⁺ᐟ⁺' : datum.label == 'Usp28T/T' ? 'Usp28ᵀᐟᵀ' : '53BP1⁻ᐟ⁻'",
      "encode": {"symbols": {"update": {"shape": {"signal": "datum.value == 'Usp28+/+' ? 'M-1,-0.25L3.67,-0.25L3.67,0.25L-1,0.25Z M1.33,-0.7L2.03,0L1.33,0.7L0.63,0Z' : datum.value == 'Usp28T/T' ? 'M-1,-0.25L3.67,-0.25L3.67,0.25L-1,0.25Z M0.33,-1L2.33,-1L2.33,1L0.33,1Z' : 'M-1,-0.25L3.67,-0.25L3.67,0.25L-1,0.25Z M1.33,-0.85L2.2,0.7L0.46,0.7Z'"}, "fill": {"signal": "datum.value == 'Usp28+/+' ? '#6a9fd8' : datum.value == 'Usp28T/T' ? '#1e8a3c' : '#ee8a2c'"}, "stroke": {"value": "transparent"}, "strokeWidth": {"value": 0}, "opacity": {"value": 1}}}}}}}},
   {"transform": [{"filter": "datum.s == 'Usp28+/+'"}], "mark": {"type": "point", "shape": "diamond", "size": 50, "filled": true, "opacity": 1, "color": "#6a9fd8"}},
   {"transform": [{"filter": "datum.s == 'Usp28T/T'"}], "mark": {"type": "point", "shape": "square", "size": 110, "filled": true, "opacity": 1, "color": "#1e8a3c"}},
   {"transform": [{"filter": "datum.s == '53BP1-/-'"}], "mark": {"type": "point", "shape": "triangle-up", "size": 70, "filled": true, "opacity": 1, "color": "#ee8a2c"}},
   {"mark": {"type": "errorbar", "ticks": {"size": 5}, "thickness": 1, "color": "#111"}, "encoding": {"yError": {"field": "e"}}}
  ]
 }
], "spacing": 18, "resolve": {"scale": {"color": "independent", "strokeDash": "independent"}, "legend": {"color": "independent"}}}
], "columns": 1, "spacing": 17, "resolve": {"scale": {"color": "independent", "strokeDash": "independent"}, "legend": {"color": "independent"}}},
{"hconcat": [
 {"width": 247, "height": 161,
  "title": {"text": "E", "anchor": "start", "frame": "group", "dx": -51, "offset": -18},
  "data": {"name": "E"},
  "encoding": {
   "x": {"field": "x", "type": "ordinal", "sort": ["UT","0.5","2","4","8","24"], "scale": {"type": "band", "paddingInner": 0, "paddingOuter": 0.09}, "axis": {"title": "time after IR (hrs)", "labelAngle": 0, "labelFontSize": 12, "labelPadding": 0, "tickBand": "extent", "tickSize": 4, "titleFontSize": 12.5, "titlePadding": 2}},
   "y": {"field": "v", "type": "quantitative", "scale": {"domain": [0, 16], "nice": false}, "axis": {"title": ["Conjugate ubiquitin", "focus number"], "values": [0,2,4,6,8,10,12,14,16], "grid": true, "gridColor": "#999", "tickSize": 3, "labelPadding": 2, "titlePadding": 3, "titleFontSize": 13.5}}
  },
  "layer": [
   {"mark": {"type": "line", "strokeWidth": 2.5}, "encoding": {
     "strokeDash": {"field": "s", "type": "nominal", "scale": {"domain": ["siLuc","siUSP28","siUSP28b","si53BP1"], "range": [[1,0],[1,0],[7,4],[1,0]]}, "legend": null},
     "color": {"field": "s", "type": "nominal", "scale": {"domain": ["siLuc","siUSP28","siUSP28b","si53BP1"], "range": ["#6a9fd8","#1e8a3c","#1e8a3c","#ee8a2c"]},
     "legend": {"orient": "none", "legendX": 197, "legendY": -13, "title": null, "fillColor": "white", "padding": 5, "symbolSize": 144, "labelFontSize": 12, "labelOffset": 21, "rowPadding": 6, "labelExpr": "datum.label == 'siUSP28b' ? 'siUSP28' : datum.label",
      "encode": {"symbols": {"update": {"shape": {"signal": "datum.value == 'siLuc' ? 'M-1,-0.2L3.67,-0.2L3.67,0.2L-1,0.2Z M1.33,-0.65L1.98,0L1.33,0.65L0.68,0Z' : datum.value == 'siUSP28' ? 'M-1,-0.2L3.67,-0.2L3.67,0.2L-1,0.2Z M0.5,-0.83L2.17,-0.83L2.17,0.83L0.5,0.83Z' : datum.value == 'siUSP28b' ? 'M-1,-0.2L0.1,-0.2L0.1,0.2L-1,0.2Z M2.6,-0.2L3.67,-0.2L3.67,0.2L2.6,0.2Z M0.5,-0.83L2.17,-0.83L2.17,0.83L0.5,0.83Z' : 'M-1,-0.2L3.67,-0.2L3.67,0.2L-1,0.2Z M1.33,-0.75L2.13,0.62L0.53,0.62Z'"}, "fill": {"signal": "datum.value == 'siLuc' ? '#6a9fd8' : datum.value == 'si53BP1' ? '#ee8a2c' : '#1e8a3c'"}, "stroke": {"value": "transparent"}, "strokeWidth": {"value": 0}, "opacity": {"value": 1}, "strokeDash": {"value": []}}}}}}}},
   {"transform": [{"filter": "datum.s == 'siLuc'"}], "mark": {"type": "point", "shape": "diamond", "size": 30, "filled": true, "opacity": 1, "color": "#6a9fd8"}},
   {"transform": [{"filter": "datum.s == 'siUSP28' || datum.s == 'siUSP28b'"}], "mark": {"type": "point", "shape": "square", "size": 60, "filled": true, "opacity": 1, "color": "#1e8a3c"}},
   {"transform": [{"filter": "datum.s == 'si53BP1'"}], "mark": {"type": "point", "shape": "triangle-up", "size": 40, "filled": true, "opacity": 1, "color": "#ee8a2c"}},
   {"mark": {"type": "errorbar", "ticks": {"size": 5}, "thickness": 1, "color": "#111"}, "encoding": {"yError": {"field": "e"}}}
  ]
 },
 {"width": 240, "height": 160,
  "title": {"text": "H", "anchor": "start", "frame": "group", "dx": -45, "offset": -18},
  "data": {"name": "H"},
  "encoding": {
   "x": {"field": "x", "type": "ordinal", "sort": ["UT","0.5","2","8","24"], "scale": {"type": "band", "paddingInner": 0, "paddingOuter": 0.02}, "axis": {"title": "time after IR (hrs)", "labelAngle": 0, "labelFontSize": 12, "labelPadding": 0, "tickBand": "extent", "tickSize": 4, "titleFontSize": 12.5, "titlePadding": 2}},
   "y": {"field": "v", "type": "quantitative", "scale": {"domain": [0, 25], "nice": false}, "axis": {"title": ["Conjugated ubiquitin", "focus number"], "values": [0,5,10,15,20,25], "grid": true, "gridColor": "#999", "tickSize": 3, "labelPadding": 2, "titlePadding": 0, "titleFontSize": 13.5}}
  },
  "layer": [
   {"mark": {"type": "line", "strokeWidth": 3}, "encoding": {
     "color": {"field": "s", "type": "nominal", "scale": {"domain": ["Usp28+/+","Usp28T/T","53BP1-/-"], "range": ["#6a9fd8","#1e8a3c","#ee8a2c"]},
     "legend": {"orient": "none", "legendX": 187, "legendY": -12, "title": null, "fillColor": "white", "padding": 5, "symbolSize": 144, "labelFontSize": 12, "labelFontStyle": "italic", "labelOffset": 20, "rowPadding": 9, "labelExpr": "datum.label == 'Usp28+/+' ? 'Usp28⁺ᐟ⁺' : datum.label == 'Usp28T/T' ? 'Usp28ᵀᐟᵀ' : '53BP1⁻ᐟ⁻'",
      "encode": {"symbols": {"update": {"shape": {"signal": "datum.value == 'Usp28+/+' ? 'M-1,-0.25L3.67,-0.25L3.67,0.25L-1,0.25Z M1.33,-0.7L2.03,0L1.33,0.7L0.63,0Z' : datum.value == 'Usp28T/T' ? 'M-1,-0.25L3.67,-0.25L3.67,0.25L-1,0.25Z M0.33,-1L2.33,-1L2.33,1L0.33,1Z' : 'M-1,-0.25L3.67,-0.25L3.67,0.25L-1,0.25Z M1.33,-0.85L2.2,0.7L0.46,0.7Z'"}, "fill": {"signal": "datum.value == 'Usp28+/+' ? '#6a9fd8' : datum.value == 'Usp28T/T' ? '#1e8a3c' : '#ee8a2c'"}, "stroke": {"value": "transparent"}, "strokeWidth": {"value": 0}, "opacity": {"value": 1}}}}}}}},
   {"transform": [{"filter": "datum.s == 'Usp28+/+'"}], "mark": {"type": "point", "shape": "diamond", "size": 50, "filled": true, "opacity": 1, "color": "#6a9fd8"}},
   {"transform": [{"filter": "datum.s == 'Usp28T/T'"}], "mark": {"type": "point", "shape": "square", "size": 110, "filled": true, "opacity": 1, "color": "#1e8a3c"}},
   {"transform": [{"filter": "datum.s == '53BP1-/-'"}], "mark": {"type": "point", "shape": "triangle-up", "size": 70, "filled": true, "opacity": 1, "color": "#ee8a2c"}},
   {"mark": {"type": "errorbar", "ticks": {"size": 5}, "thickness": 1, "color": "#111"}, "encoding": {"yError": {"field": "e"}}}
  ]
 }
], "spacing": 19, "resolve": {"scale": {"color": "independent", "strokeDash": "independent"}, "legend": {"color": "independent"}}}
]
}
